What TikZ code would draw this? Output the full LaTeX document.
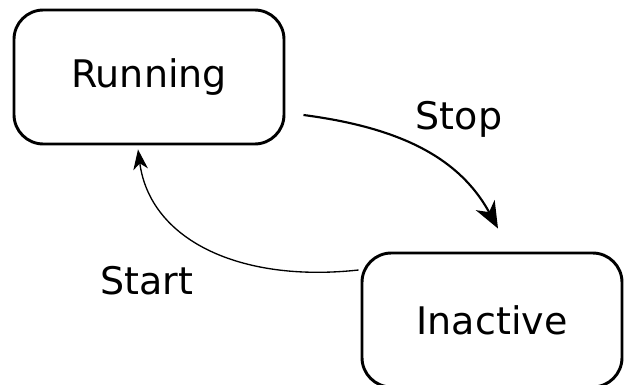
\documentclass[tikz,border=0pt]{standalone}
\usepackage{fontspec}
\setmainfont{DejaVu Sans}
\usetikzlibrary{arrows.meta,calc}

\tikzset{every picture/.style={line width=0.75pt}}
\tikzset{
  statebox/.style={draw, line width=2.2pt, rounded corners=22pt, minimum height=100.5pt, font=\fontsize{28.5}{34}\selectfont},
  labeltext/.style={inner sep=0pt, font=\fontsize{28.5}{34}\selectfont},
}

\begin{document}
\begin{tikzpicture}[x=0.75pt,y=0.75pt,yscale=-1,xscale=1]
\useasboundingbox (0,0) rectangle (624,385);

%Shape: Rounded Rect [id:running] 
\node [statebox, minimum width=202.5pt] (running) at (149,77) {Running};
%Shape: Rounded Rect [id:inactive] 
\node [statebox, minimum width=195pt] (inactive) at (492,320) {Inactive};

%Curve Lines [id:stop] 
\draw [line width=1.6pt, -{Stealth[length=20pt,width=16pt,inset=6pt]}]    ($(running.east)+(18,38)$) .. controls (395,127) and (458,155) .. ($(inactive.north)+(6,-23)$) ;
%Curve Lines [id:start] 
\draw [line width=1pt, -{Stealth[length=15pt,width=11pt,inset=4.5pt]}]    ($(inactive.west)+(-2,-50)$) .. controls (240,283) and (150,240) .. ($(running.south)+(-11,4)$) ;

% Text Node
\node [labeltext] (stoplabel) at (459,119) {Stop};
% Text Node
\node [labeltext] (startlabel) at (147,281) {Start};

\end{tikzpicture}
\end{document}
